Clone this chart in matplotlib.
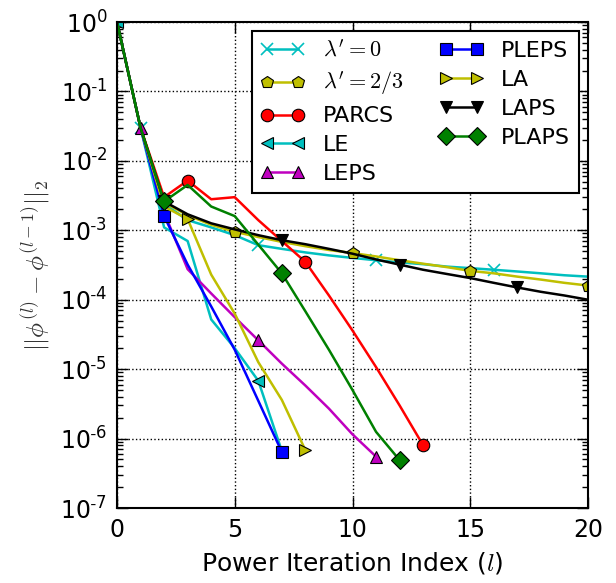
import matplotlib
matplotlib.use('Agg')
import matplotlib.pyplot as plt
import matplotlib.ticker as mticker
import numpy as np

plt.rcParams['mathtext.fontset'] = 'cm'
plt.rcParams['font.family'] = 'DejaVu Sans'

# residual norms per power iteration, starting at l = 0
lam0 = [1.0, 0.03, 2.4e-3, 1.4e-3, 1.1e-3, 8.5e-4, 6.1e-4, 5.4e-4, 4.8e-4, 4.35e-4, 4.0e-4,
        3.7e-4, 3.45e-4, 3.25e-4, 3.0e-4, 2.85e-4, 2.7e-4, 2.55e-4, 2.4e-4, 2.25e-4, 2.15e-4]
lam23 = [1.0, 0.03, 2.5e-3, 1.65e-3, 1.2e-3, 9.5e-4, 8.0e-4, 6.8e-4, 5.9e-4, 5.2e-4, 4.7e-4,
         4.2e-4, 3.7e-4, 3.3e-4, 2.95e-4, 2.6e-4, 2.4e-4, 2.15e-4, 1.95e-4, 1.75e-4, 1.6e-4]
parcs = [1.0, 0.03, 3.0e-3, 5.2e-3, 2.8e-3, 3.0e-3, 1.4e-3, 7.0e-4, 3.5e-4, 1.15e-4, 3.6e-5,
         1.07e-5, 3.0e-6, 8.0e-7]
le = [1.0, 0.03, 1.1e-3, 7.0e-4, 5.2e-5, 2.0e-5, 6.8e-6, 6.6e-7]
leps = [1.0, 0.03, 1.8e-3, 2.75e-4, 1.23e-4, 5.6e-5, 2.6e-5, 1.2e-5, 5.8e-6, 2.7e-6, 1.15e-6, 5.5e-7]
pleps = [1.0, 0.03, 1.6e-3, 3.2e-4, 8.0e-5, 1.9e-5, 3.5e-6, 6.4e-7]
la = [1.0, 0.03, 2.2e-3, 1.45e-3, 2.3e-4, 6.3e-5, 1.26e-5, 3.6e-6, 6.8e-7]
laps = [1.0, 0.03, 2.6e-3, 1.7e-3, 1.26e-3, 1.03e-3, 8.5e-4, 7.2e-4, 6.3e-4, 5.4e-4, 4.6e-4,
        3.8e-4, 3.2e-4, 2.7e-4, 2.35e-4, 2.05e-4, 1.75e-4, 1.5e-4, 1.3e-4, 1.15e-4, 1.0e-4]
plaps = [1.0, 0.03, 2.6e-3, 4.5e-3, 2.2e-3, 1.6e-3, 6.2e-4, 2.4e-4, 6.8e-5, 1.9e-5, 5.0e-6,
         1.25e-6, 4.9e-7]

labels = [r"$\lambda'=0$", r"$\lambda'=2/3$", 'PARCS', 'LE', 'LEPS', 'PLEPS', 'LA', 'LAPS', 'PLAPS']

fig = plt.figure(figsize=(6.16, 5.83), dpi=100)
ax = fig.add_axes([117/616., 1 - 508/583., 471/616., 486/583.])

ms = 9
lw = 1.8
common = dict(lw=lw, ms=ms, mec='k', mew=0.8)

ax.semilogy(np.arange(len(lam0)), lam0, 'c-x', lw=lw, ms=ms, mew=1.2, markevery=(1, 5), label=labels[0])
ax.semilogy(np.arange(len(lam23)), lam23, 'y-p', markevery=5, label=labels[1], **common)
ax.semilogy(np.arange(len(parcs)), parcs, 'r-o', markevery=(3, 5), label=labels[2], **common)
ax.semilogy(np.arange(len(le)), le, 'c-<', markevery=6, label=labels[3], **common)
ax.semilogy(np.arange(len(leps)), leps, 'm-^', markevery=(1, 5), label=labels[4], **common)
ax.semilogy(np.arange(len(pleps)), pleps, 'b-s', markevery=(2, 5), label=labels[5], **common)
ax.semilogy(np.arange(len(la)), la, 'y->', markevery=(3, 5), label=labels[6], **common)
ax.semilogy(np.arange(len(laps)), laps, 'k-v', markevery=(2, 5), label=labels[7], **common)
ax.semilogy(np.arange(len(plaps)), plaps, 'g-D', markevery=(2, 5), label=labels[8], **common)

ax.set_xlim(0, 20)
ax.set_ylim(1e-7, 1e0)
ax.set_xticks([0, 5, 10, 15, 20])
ax.yaxis.set_major_locator(mticker.LogLocator(base=10, numticks=10))
ax.yaxis.set_major_formatter(mticker.FuncFormatter(
    lambda v, p: r'$\mathregular{10^{\text{-}%d}}$' % round(-np.log10(v)) if v < 0.5 else r'$\mathregular{10^{0}}$'))

ax.tick_params(which='both', direction='in', top=True, right=True, labelsize=17)
ax.tick_params(which='major', length=8, width=1, pad=7)
ax.tick_params(which='minor', length=4, width=1)
for s in ax.spines.values():
    s.set_linewidth(1.5)

ax.grid(True, which='major', linestyle=':', color='k', lw=1)

ax.set_xlabel(r'Power Iteration Index ($l$)', fontsize=18, labelpad=6)
ax.set_ylabel(r'$||\phi^{(l)} - \phi^{(l-1)}||_2$', fontsize=18, labelpad=6, color='#333333')

leg = ax.legend(loc='upper right', ncol=2, fontsize=16, numpoints=2, fancybox=False,
                framealpha=1, borderaxespad=0.4, labelspacing=0.4, columnspacing=1.6,
                handletextpad=0.8)
leg.get_frame().set_edgecolor('k')
leg.get_frame().set_linewidth(1.5)

fig.savefig('out.png', dpi=100)
